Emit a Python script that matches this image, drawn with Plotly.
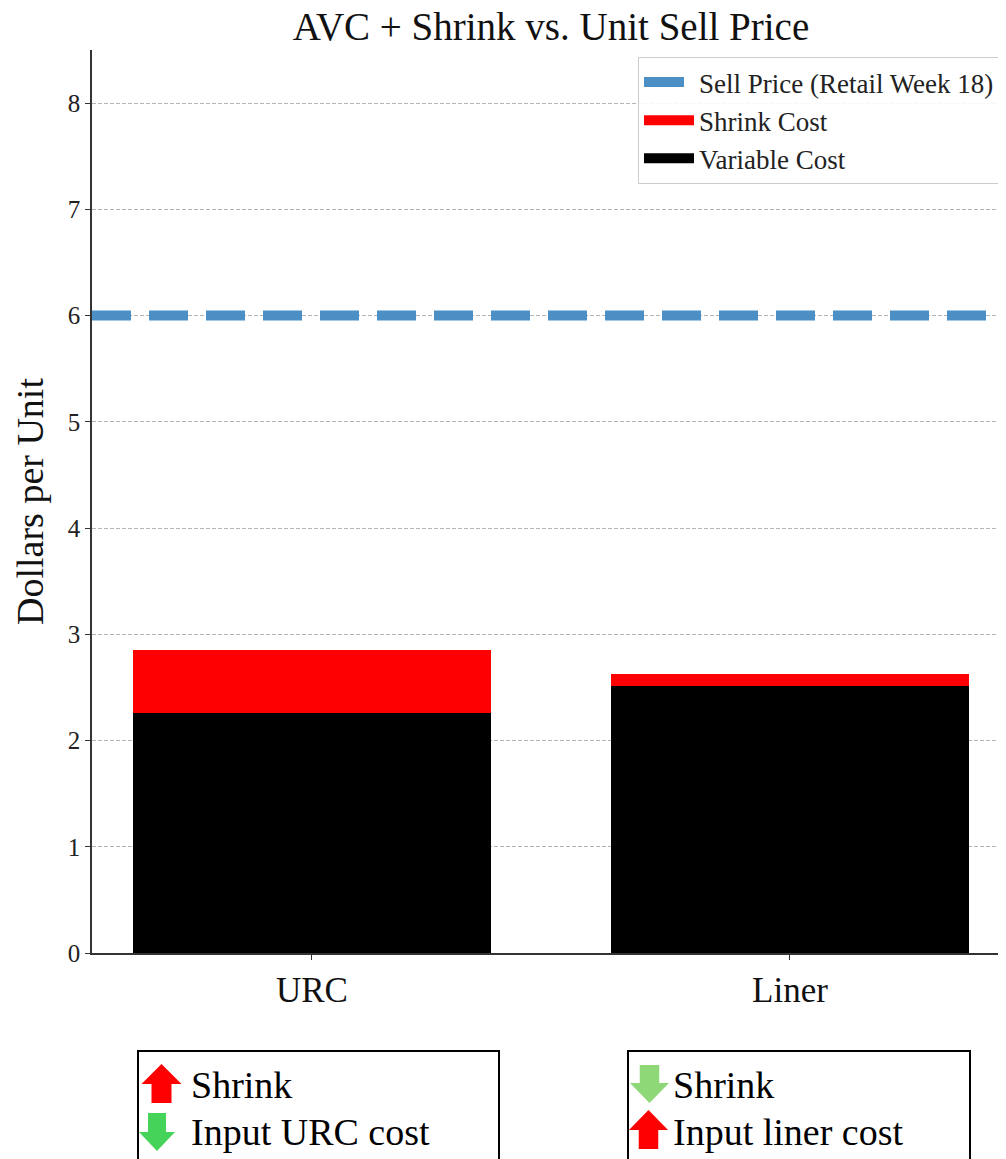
import plotly.graph_objects as go

# ---------------- data ----------------
categories = ["URC", "Liner"]
variable_cost = [2.26, 2.51]
shrink_cost = [0.59, 0.12]
sell_price = [6.0]
y_ticks = [0, 1, 2, 3, 4, 5, 6, 7, 8]
left_box_lines = ["Shrink", "Input URC cost"]
right_box_lines = ["Shrink", "Input liner cost"]

FONT = "Liberation Serif"
OFF = 8  # page body margin; reference pixel coords are shifted by this
W, H = 1006 - OFF, 1159 - OFF
L, T = 92 - OFF, 50 - OFF
PW, PH = 914, 903
R = W - L - PW
B = H - T - PH
X_RANGE = [-0.46, 1.452]
Y_RANGE = [0, 8.5]

C_VAR, C_SHRINK, C_SELL = "black", "#ff0000", "#4b8fc4"


def px(x):
    # reference pixel x -> paper
    return (x - OFF - L) / PW


def py(y):
    # reference pixel y -> paper
    return (T + PH - (y - OFF)) / PH


xpos = list(range(len(categories)))

fig = go.Figure()
fig.add_trace(go.Bar(
    x=xpos, y=variable_cost, width=0.75, name="Variable Cost",
    marker=dict(color=C_VAR, line=dict(width=0)), showlegend=False,
))
fig.add_trace(go.Bar(
    x=xpos, y=shrink_cost, width=0.75, name="Shrink Cost",
    marker=dict(color=C_SHRINK, line=dict(width=0)), showlegend=False,
))
fig.add_trace(go.Scatter(
    x=X_RANGE, y=sell_price * 2, mode="lines", name="Sell Price (Retail Week 18)",
    line=dict(color=C_SELL, width=10, dash="39px,18px"), showlegend=False,
))

# legend entries (patch-style, like the reference legend)
legend_items = [
    ("Sell Price (Retail Week 18)", C_SELL, 10, "40px,200px"),
    ("Shrink Cost", C_SHRINK, 19, "solid"),
    ("Variable Cost", C_VAR, 19, "solid"),
]
for i, (name, color, lw, dash) in enumerate(legend_items):
    fig.add_trace(go.Scatter(
        x=[None], y=[None], mode="lines", name=name,
        line=dict(color=color, width=lw, dash=dash),
        legendrank=i + 1, legendgroup=f"g{i}", hoverinfo="skip",
    ))

shapes = []
annotations = []


def add_box(x0, x1, y0, y1):
    shapes.append(dict(type="rect", xref="paper", yref="paper",
                       x0=px(x0), x1=px(x1), y0=py(y0), y1=py(y1),
                       line=dict(color="black", width=2), fillcolor="rgba(0,0,0,0)"))


def add_arrow(cx, top, bottom, head_w, head_len, up, color):
    hw = head_w / 2
    sw = head_w / 4
    if up:
        pts = [(cx, top), (cx + hw, top + head_len), (cx + sw, top + head_len),
               (cx + sw, bottom), (cx - sw, bottom), (cx - sw, top + head_len),
               (cx - hw, top + head_len)]
    else:
        pts = [(cx, bottom), (cx + hw, bottom - head_len), (cx + sw, bottom - head_len),
               (cx + sw, top), (cx - sw, top), (cx - sw, bottom - head_len),
               (cx - hw, bottom - head_len)]
    path = "M " + " L ".join(f"{px(a):.5f},{py(b):.5f}" for a, b in pts) + " Z"
    shapes.append(dict(type="path", xref="paper", yref="paper", path=path,
                       fillcolor=color, line=dict(width=0)))


def add_text(x, y, s):
    annotations.append(dict(xref="paper", yref="paper", x=px(x), y=py(y),
                            xanchor="left", yanchor="middle", text=s, showarrow=False,
                            font=dict(family=FONT, size=38, color="black")))


# left box
add_box(138, 499, 1051, 1180)
add_arrow(161.5, 1064, 1103, 40, 20, True, "#ff0000")
add_arrow(157, 1113, 1151, 36, 19, False, "#46d35a")
add_text(189, 1085, left_box_lines[0])
add_text(189, 1132, left_box_lines[1])
# right box
add_box(628, 970, 1051, 1180)
add_arrow(649.5, 1065, 1103, 39, 20, False, "#8fd878")
add_arrow(648.5, 1110, 1149, 39, 20, True, "#ff0000")
add_text(671, 1085, right_box_lines[0])
add_text(671, 1132, right_box_lines[1])

fig.update_layout(
    width=W, height=H,
    margin=dict(l=L, r=R, t=T, b=B, pad=0),
    paper_bgcolor="white", plot_bgcolor="white",
    barmode="stack",
    font=dict(family=FONT, color="#222"),
    title=dict(text="AVC + Shrink vs. Unit Sell Price", x=px(551), xanchor="center",
               y=1 - (26 - OFF) / H, yanchor="middle", xref="paper",
               font=dict(family=FONT, size=39, color="#111")),
    xaxis=dict(range=X_RANGE, tickvals=xpos, ticktext=categories, showgrid=False,
               zeroline=False, showline=True, linecolor="#333", linewidth=1.5,
               ticks="outside", ticklen=5, tickcolor="#333",
               tickfont=dict(family=FONT, size=35, color="#111")),
    yaxis=dict(range=Y_RANGE, tickvals=y_ticks, showgrid=True, gridcolor="#b5b5b5",
               gridwidth=1, griddash="4px,2px", zeroline=False, showline=True,
               linecolor="#333", linewidth=1.5, ticks="outside", ticklen=5,
               tickcolor="#333", tickfont=dict(family=FONT, size=25, color="#222"),
               title=dict(text="Dollars per Unit", standoff=12,
                          font=dict(family=FONT, size=38, color="#111"))),
    legend=dict(x=px(1000), xanchor="right", y=py(57), yanchor="top",
                traceorder="normal", bordercolor="#cccccc", borderwidth=1,
                bgcolor="rgba(255,255,255,0.9)", tracegroupgap=2, itemwidth=50,
                font=dict(family=FONT, size=27, color="#222")),
    shapes=shapes, annotations=annotations,
)

fig.write_html("out.html")
